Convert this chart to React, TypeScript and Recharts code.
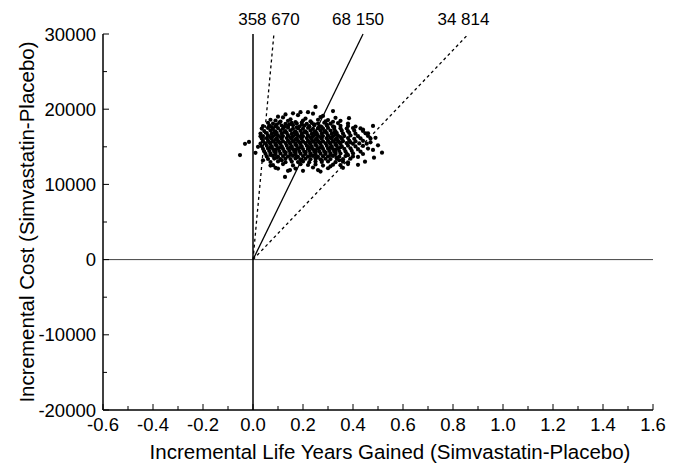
import React from "react";
import {
  ScatterChart,
  Scatter,
  XAxis,
  YAxis,
  ReferenceLine,
  ReferenceDot,
} from "recharts";

// axis ticks
const lifeYearTicks = [
  -0.6, -0.5, -0.4, -0.3, -0.2, -0.1, 0, 0.1, 0.2, 0.3, 0.4, 0.5, 0.6, 0.7, 0.8,
  0.9, 1.0, 1.1, 1.2, 1.3, 1.4, 1.5, 1.6,
];
const costTicks = [
  -20000, -15000, -10000, -5000, 0, 5000, 10000, 15000, 20000, 25000, 30000,
];

// cost per life year gained thresholds (rays from origin)
const ratios = [358670, 68150, 34814];
const ratioLabels = ["358 670", "68 150", "34 814"];
const ratioDashed = [true, false, true];

// bootstrap replicates [life years gained, cost]
const outliers: [number, number][] = [
  [-0.052, 13900], [-0.032, 15400], [-0.016, 15650], [0.25, 20300], [0.32, 19750],
  [0.384, 18800], [0.48, 17770], [0.516, 14220], [0.484, 13550], [0.48, 14580],
  [0.49, 16200], [0.128, 10990], [0.148, 11900], [0.448, 13020], [0.47, 15600],
  [0.46, 16800], [0.5, 15200], [0.44, 17300], [0.42, 12600], [0.36, 12200],
  [0.02, 15000], [0.03, 16400], [0.01, 14200], [0.04, 13200], [0.07, 12500],
  [0.1, 12100], [0.2, 11800], [0.26, 11900], [0.31, 12400], [0.22, 19600],
  [0.1, 19000], [0.07, 18600],
];

const upper: [number, number][] = [
  [0.09, 18500], [0.12, 18900], [0.15, 18650], [0.18, 19200], [0.21, 18750],
  [0.24, 19400], [0.27, 18950], [0.3, 18550], [0.33, 18850], [0.11, 18350],
  [0.14, 18450], [0.17, 18300], [0.2, 18500], [0.23, 18400], [0.26, 18600],
  [0.29, 18380], [0.32, 18330], [0.35, 18450], [0.06, 18200], [0.38, 18100],
  [0.13, 19300], [0.19, 19600], [0.16, 19450], [0.28, 19100],
];

const core: [number, number][] = [
  [0.08, 18080], [0.105, 18210], [0.13, 18060], [0.155, 18180], [0.175, 18110], [0.195, 18230], [0.215, 18050], [0.235, 18170], [0.26, 18090], [0.285, 18200], [0.31, 18070], [0.34, 18150],
  [0.04, 17760], [0.065, 17840], [0.09, 17720], [0.115, 17830], [0.14, 17750], [0.16, 17870], [0.185, 17700], [0.205, 17810], [0.225, 17740], [0.245, 17850], [0.27, 17730], [0.295, 17820], [0.32, 17710], [0.35, 17800], [0.38, 17750], [0.41, 17690],
  [0.035, 17430], [0.06, 17510], [0.08, 17380], [0.1, 17490], [0.12, 17420], [0.14, 17540], [0.16, 17400], [0.18, 17470], [0.2, 17410], [0.22, 17520], [0.24, 17390], [0.26, 17480], [0.28, 17430], [0.3, 17510], [0.325, 17380], [0.35, 17460], [0.375, 17420], [0.4, 17500], [0.43, 17440],
  [0.045, 17090], [0.07, 17170], [0.09, 17060], [0.11, 17150], [0.13, 17080], [0.15, 17190], [0.17, 17050], [0.19, 17130], [0.21, 17070], [0.23, 17180], [0.25, 17060], [0.27, 17160], [0.29, 17090], [0.31, 17170], [0.33, 17050], [0.355, 17140], [0.38, 17080], [0.405, 17160], [0.44, 17110],
  [0.03, 16770], [0.055, 16830], [0.075, 16740], [0.095, 16820], [0.115, 16760], [0.135, 16850], [0.155, 16730], [0.175, 16810], [0.195, 16750], [0.215, 16840], [0.235, 16720], [0.255, 16800], [0.275, 16760], [0.295, 16830], [0.315, 16740], [0.335, 16820], [0.36, 16770], [0.385, 16840], [0.41, 16750], [0.45, 16790],
  [0.04, 16430], [0.06, 16490], [0.08, 16400], [0.1, 16480], [0.12, 16420], [0.14, 16510], [0.16, 16390], [0.18, 16470], [0.2, 16410], [0.22, 16500], [0.24, 16380], [0.26, 16460], [0.28, 16420], [0.3, 16490], [0.32, 16400], [0.34, 16480], [0.365, 16430], [0.39, 16500], [0.42, 16410], [0.46, 16450],
  [0.035, 16090], [0.055, 16150], [0.075, 16060], [0.095, 16140], [0.115, 16080], [0.135, 16170], [0.155, 16050], [0.175, 16130], [0.195, 16070], [0.215, 16160], [0.235, 16040], [0.255, 16120], [0.275, 16080], [0.295, 16150], [0.315, 16060], [0.335, 16140], [0.355, 16090], [0.38, 16160], [0.405, 16070], [0.43, 16130], [0.47, 16100],
  [0.04, 15750], [0.06, 15810], [0.08, 15720], [0.1, 15800], [0.12, 15740], [0.14, 15830], [0.16, 15710], [0.18, 15790], [0.2, 15730], [0.22, 15820], [0.24, 15700], [0.26, 15780], [0.28, 15740], [0.3, 15810], [0.32, 15720], [0.34, 15800], [0.36, 15750], [0.385, 15820], [0.41, 15730], [0.44, 15790],
  [0.03, 15410], [0.05, 15470], [0.07, 15380], [0.09, 15460], [0.11, 15400], [0.13, 15490], [0.15, 15370], [0.17, 15450], [0.19, 15390], [0.21, 15480], [0.23, 15360], [0.25, 15440], [0.27, 15400], [0.29, 15470], [0.31, 15380], [0.33, 15460], [0.35, 15410], [0.375, 15480], [0.4, 15390], [0.425, 15450], [0.455, 15420],
  [0.035, 15070], [0.055, 15130], [0.075, 15040], [0.095, 15120], [0.115, 15060], [0.135, 15150], [0.155, 15030], [0.175, 15110], [0.195, 15050], [0.215, 15140], [0.235, 15020], [0.255, 15100], [0.275, 15060], [0.295, 15130], [0.315, 15040], [0.335, 15120], [0.355, 15070], [0.38, 15140], [0.41, 15050], [0.44, 15110],
  [0.04, 14730], [0.06, 14790], [0.08, 14700], [0.1, 14780], [0.12, 14720], [0.14, 14810], [0.16, 14690], [0.18, 14770], [0.2, 14710], [0.22, 14800], [0.24, 14680], [0.26, 14760], [0.28, 14720], [0.3, 14790], [0.32, 14700], [0.34, 14780], [0.365, 14730], [0.39, 14800], [0.42, 14710], [0.46, 14770],
  [0.045, 14390], [0.065, 14450], [0.085, 14360], [0.105, 14440], [0.125, 14380], [0.145, 14470], [0.165, 14350], [0.185, 14430], [0.205, 14370], [0.225, 14460], [0.245, 14340], [0.265, 14420], [0.285, 14380], [0.305, 14450], [0.325, 14360], [0.345, 14440], [0.37, 14390], [0.395, 14460], [0.43, 14370],
  [0.05, 14060], [0.07, 14120], [0.09, 14030], [0.11, 14110], [0.13, 14050], [0.15, 14140], [0.17, 14020], [0.19, 14100], [0.21, 14040], [0.23, 14130], [0.25, 14010], [0.27, 14090], [0.29, 14050], [0.31, 14120], [0.33, 14030], [0.35, 14110], [0.375, 14060], [0.4, 14130], [0.44, 14040],
  [0.055, 13720], [0.08, 13780], [0.1, 13690], [0.12, 13770], [0.14, 13710], [0.16, 13800], [0.18, 13680], [0.2, 13760], [0.22, 13700], [0.24, 13790], [0.26, 13670], [0.28, 13750], [0.3, 13710], [0.32, 13780], [0.345, 13690], [0.37, 13770], [0.4, 13720], [0.42, 13650],
  [0.06, 13380], [0.085, 13440], [0.11, 13350], [0.13, 13430], [0.15, 13370], [0.17, 13460], [0.19, 13340], [0.21, 13420], [0.23, 13360], [0.25, 13450], [0.27, 13330], [0.29, 13410], [0.31, 13370], [0.335, 13440], [0.36, 13350], [0.39, 13420],
  [0.07, 12980], [0.1, 13050], [0.13, 12960], [0.155, 13040], [0.18, 12970], [0.2, 13060], [0.225, 12950], [0.25, 13030], [0.275, 12980], [0.3, 13050], [0.33, 12960], [0.36, 13020], [0.38, 12940],
  [0.08, 12550], [0.12, 12700], [0.16, 12520], [0.19, 12680], [0.22, 12580], [0.25, 12650], [0.28, 12500], [0.32, 12620], [0.35, 12560], [0.09, 12200], [0.17, 12100], [0.24, 12250], [0.3, 12150], [0.14, 11800], [0.27, 11700], [0.38, 12700],
  [0.095, 17960], [0.145, 17980], [0.195, 17940], [0.245, 17990], [0.295, 17950],
  [0.075, 17620], [0.125, 17640], [0.175, 17600], [0.225, 17650], [0.275, 17610], [0.325, 17630],
  [0.085, 16950], [0.125, 16970], [0.165, 16930], [0.205, 16960], [0.245, 16940], [0.285, 16980], [0.325, 16920],
  [0.09, 16620], [0.17, 16640], [0.25, 16610], [0.33, 16630],
  [0.07, 16280], [0.11, 16300], [0.15, 16260], [0.19, 16310], [0.23, 16270], [0.27, 16290], [0.31, 16250], [0.35, 16300],
  [0.09, 15940], [0.17, 15960], [0.25, 15930], [0.33, 15950],
  [0.065, 15600], [0.105, 15620], [0.145, 15580], [0.185, 15630], [0.225, 15590], [0.265, 15610], [0.305, 15570], [0.345, 15620], [0.39, 15600],
  [0.09, 15260], [0.17, 15280], [0.25, 15250], [0.33, 15270],
  [0.07, 14920], [0.11, 14940], [0.15, 14900], [0.19, 14950], [0.23, 14910], [0.27, 14930], [0.31, 14890], [0.35, 14940],
  [0.09, 14580], [0.17, 14600], [0.25, 14570], [0.33, 14590],
  [0.09, 14240], [0.13, 14260], [0.17, 14220], [0.21, 14270], [0.25, 14230], [0.29, 14250], [0.33, 14210],
  [0.07, 13910], [0.15, 13930], [0.23, 13900], [0.31, 13920], [0.38, 13890],
  [0.095, 13570], [0.175, 13590], [0.255, 13560], [0.335, 13580],
  [0.115, 13200], [0.195, 13220], [0.275, 13190], [0.345, 13210],
];

const points = [...core, ...upper, ...outliers].map(([x, y]) => ({ x, y }));

const FONT = "'Liberation Sans', Arial, sans-serif";
const TICK_MARGIN = 8;

const XTick = (props: any) => {
  const { x, y, payload } = props;
  const axisY = y - TICK_MARGIN;
  const major = Math.round(payload.value * 10) % 2 === 0;
  return (
    <g>
      <line x1={x} x2={x} y1={axisY} y2={axisY - (major ? 6 : 4)} stroke="#000" strokeWidth={1} />
      {major && (
        <text x={x} y={axisY + 21} textAnchor="middle" fontSize={18.5} fontFamily={FONT} fill="#000">
          {payload.value.toFixed(1)}
        </text>
      )}
    </g>
  );
};

const YTick = (props: any) => {
  const { x, y, payload } = props;
  const axisX = x + TICK_MARGIN;
  const major = payload.value % 10000 === 0;
  return (
    <g>
      <line x1={axisX} x2={axisX + (major ? 6 : 4)} y1={y} y2={y} stroke="#000" strokeWidth={1} />
      {major && (
        <text x={axisX - 7} y={y + 6.5} textAnchor="end" fontSize={18.5} fontFamily={FONT} fill="#000">
          {payload.value}
        </text>
      )}
    </g>
  );
};

export default function App() {
  return (
    <div style={{ position: "absolute", left: 0, top: 0, width: 680, height: 471, background: "#fff" }}>
      <ScatterChart width={680} height={471} margin={{ top: 34, right: 27, bottom: 0, left: 0 }}>
        <XAxis
          type="number"
          dataKey="x"
          domain={[-0.6, 1.6]}
          ticks={lifeYearTicks}
          interval={0}
          allowDataOverflow
          height={61}
          tickSize={0}
          tickMargin={TICK_MARGIN}
          tickLine={false}
          tick={<XTick />}
          axisLine={{ stroke: "#000", strokeWidth: 1.5 }}
          label={{
            content: (p: any) => (
              <text
                x={p.viewBox.x + p.viewBox.width / 2 + 12}
                y={p.viewBox.y + 49}
                textAnchor="middle"
                fontSize={20.5}
                fontFamily={FONT}
                fill="#000"
              >
                Incremental Life Years Gained (Simvastatin-Placebo)
              </text>
            ),
          }}
        />
        <YAxis
          type="number"
          dataKey="y"
          domain={[-20000, 30000]}
          ticks={costTicks}
          interval={0}
          allowDataOverflow
          width={103}
          tickSize={0}
          tickMargin={TICK_MARGIN}
          tickLine={false}
          tick={<YTick />}
          axisLine={{ stroke: "#000", strokeWidth: 1.5 }}
          label={{
            content: (p: any) => {
              const cx = 26;
              const cy = p.viewBox.y + p.viewBox.height / 2;
              return (
                <text
                  x={cx}
                  y={cy}
                  transform={`rotate(-90, ${cx}, ${cy})`}
                  textAnchor="middle"
                  dominantBaseline="central"
                  fontSize={20.5}
                  fontFamily={FONT}
                  fill="#000"
                >
                  Incremental Cost (Simvastatin-Placebo)
                </text>
              );
            },
          }}
        />
        <ReferenceLine y={0} stroke="#444" strokeWidth={1} />
        <ReferenceLine x={0} stroke="#000" strokeWidth={1.5} />
        {ratios.map((r, i) => (
          <ReferenceLine
            key={`ray-${i}`}
            segment={[
              { x: 0, y: 0 },
              { x: 30000 / r, y: 30000 },
            ]}
            stroke="#000"
            strokeWidth={1.3}
            strokeDasharray={ratioDashed[i] ? "3 3" : undefined}
          />
        ))}
        {ratios.map((r, i) => (
          <ReferenceDot
            key={`lbl-${i}`}
            x={30000 / r}
            y={30000}
            r={0}
            stroke="none"
            fill="none"
            label={{
              content: (p: any) => (
                <text
                  x={p.viewBox.x - 5}
                  y={p.viewBox.y - 9}
                  textAnchor="middle"
                  fontSize={17}
                  fontFamily={FONT}
                  fill="#000"
                >
                  {ratioLabels[i]}
                </text>
              ),
            }}
          />
        ))}
        <Scatter
          data={points}
          isAnimationActive={false}
          shape={(p: any) => <circle cx={p.cx} cy={p.cy} r={2.1} fill="#000" />}
        />
      </ScatterChart>
    </div>
  );
}
